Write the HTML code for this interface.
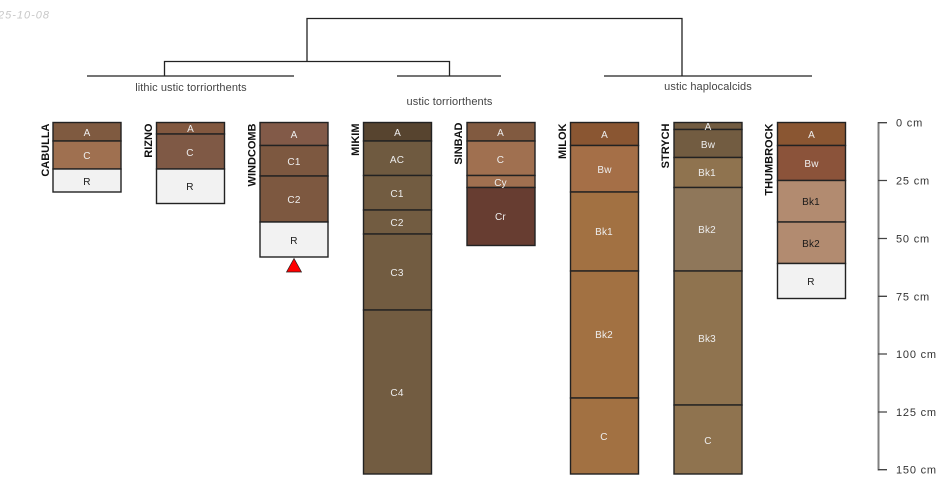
<!DOCTYPE html>
<html><head><meta charset="utf-8"><style>
html,body{margin:0;padding:0;background:#fff}
svg{display:block}
text{font-family:"Liberation Sans",sans-serif}
.h{font-size:10px;text-anchor:middle;fill:#eee;letter-spacing:.2px}
.d{font-size:10px;text-anchor:middle;fill:#1a1a1a;letter-spacing:.2px}
.n{font-size:11px;font-weight:bold;fill:#111;text-anchor:end}
.g{font-size:11px;text-anchor:middle;fill:#444;letter-spacing:.08px}
.t{font-size:11px;fill:#333;letter-spacing:.8px}
.l{stroke:#222;stroke-width:1.300;fill:none}
.b{stroke:#222;stroke-width:1.400}
</style></head><body>
<svg width="950" height="500" viewBox="0 0 950 500" xmlns="http://www.w3.org/2000/svg">
<text x="-2" y="18.500" font-size="11" font-style="italic" fill="#c8c8c8" letter-spacing="1">25-10-08</text>

<path class="l" d="M307 61.500V18.500H682V75.500"/>
<path class="l" d="M164.500 75.500V61.500H449.500V75.500"/>
<path class="l" d="M87 76H294M397 76H501M604 76H812"/>
<text class="g" x="191" y="91">lithic ustic torriorthents</text>
<text class="g" x="449.500" y="105">ustic torriorthents</text>
<text class="g" x="708" y="90">ustic haplocalcids</text>

<g class="b">
<rect x="53" y="122.500" width="68" height="18.500" fill="#7f5a40"/>
<rect x="53" y="141" width="68" height="28" fill="#9f7050"/>
<rect x="53" y="169" width="68" height="23" fill="#f2f2f2"/>

<rect x="156.500" y="122.500" width="68" height="11.500" fill="#82583f"/>
<rect x="156.500" y="134" width="68" height="35" fill="#7f5945"/>
<rect x="156.500" y="169" width="68" height="34.500" fill="#f2f2f2"/>

<rect x="260" y="122.500" width="68" height="23" fill="#825a48"/>
<rect x="260" y="145.500" width="68" height="30.500" fill="#7d5840"/>
<rect x="260" y="176" width="68" height="46" fill="#7d5840"/>
<rect x="260" y="222" width="68" height="35" fill="#f2f2f2"/>

<rect x="363.500" y="122.500" width="68" height="18.500" fill="#57442f"/>
<rect x="363.500" y="141" width="68" height="34.500" fill="#6f5a40"/>
<rect x="363.500" y="175.500" width="68" height="34.500" fill="#725c41"/>
<rect x="363.500" y="210" width="68" height="24" fill="#725c41"/>
<rect x="363.500" y="234" width="68" height="76" fill="#725c41"/>
<rect x="363.500" y="310" width="68" height="164" fill="#725c41"/>

<rect x="467" y="122.500" width="68" height="18.500" fill="#815a40"/>
<rect x="467" y="141" width="68" height="34.500" fill="#a07050"/>
<rect x="467" y="175.500" width="68" height="12" fill="#a07050"/>
<rect x="467" y="187.500" width="68" height="58" fill="#673d31"/>

<rect x="570.500" y="122.500" width="68" height="23" fill="#8a5632"/>
<rect x="570.500" y="145.500" width="68" height="46.500" fill="#a56f47"/>
<rect x="570.500" y="192" width="68" height="79" fill="#a27142"/>
<rect x="570.500" y="271" width="68" height="127" fill="#a27142"/>
<rect x="570.500" y="398" width="68" height="76" fill="#a27142"/>

<rect x="674" y="122.500" width="68" height="7" fill="#725c41"/>
<rect x="674" y="129.500" width="68" height="28" fill="#725c41"/>
<rect x="674" y="157.500" width="68" height="30" fill="#8f734f"/>
<rect x="674" y="187.500" width="68" height="83.500" fill="#8f775a"/>
<rect x="674" y="271" width="68" height="134" fill="#8f734f"/>
<rect x="674" y="405" width="68" height="69" fill="#8f734f"/>

<rect x="777.500" y="122.500" width="68" height="23" fill="#8a5632"/>
<rect x="777.500" y="145.500" width="68" height="35" fill="#8b533a"/>
<rect x="777.500" y="180.500" width="68" height="41.500" fill="#b28b70"/>
<rect x="777.500" y="222" width="68" height="41.500" fill="#b28b70"/>
<rect x="777.500" y="263.500" width="68" height="35" fill="#f2f2f2"/>
</g>

<text class="h" x="87" y="136">A</text><text class="h" x="87" y="159">C</text><text class="d" x="87" y="185">R</text>
<text class="h" x="190.500" y="132">A</text><text class="h" x="190" y="156">C</text><text class="d" x="190" y="190">R</text>
<text class="h" x="294" y="138">A</text><text class="h" x="294" y="165">C1</text><text class="h" x="294" y="203">C2</text><text class="d" x="294" y="244">R</text>
<text class="h" x="397.500" y="136">A</text><text class="h" x="397" y="163">AC</text><text class="h" x="397" y="197">C1</text><text class="h" x="397" y="226">C2</text><text class="h" x="397" y="276">C3</text><text class="h" x="397" y="396">C4</text>
<text class="h" x="500.500" y="136">A</text><text class="h" x="500.500" y="163">C</text><text class="h" x="500.500" y="186">Cy</text><text class="h" x="500.500" y="220">Cr</text>
<text class="h" x="604.500" y="138">A</text><text class="h" x="604.500" y="173">Bw</text><text class="h" x="604" y="235">Bk1</text><text class="h" x="604" y="338">Bk2</text><text class="h" x="604" y="440">C</text>
<text class="h" x="708" y="130">A</text><text class="h" x="708" y="148">Bw</text><text class="h" x="707" y="176">Bk1</text><text class="h" x="707" y="233">Bk2</text><text class="h" x="707" y="342">Bk3</text><text class="h" x="708" y="444">C</text>
<text class="h" x="811.500" y="138">A</text><text class="h" x="811.500" y="167">Bw</text><text class="d" x="811" y="205">Bk1</text><text class="d" x="811" y="247">Bk2</text><text class="d" x="811" y="285">R</text>

<g>
<text class="n" transform="translate(49 123.500) rotate(-90)">CABULLA</text>
<text class="n" transform="translate(152 123.500) rotate(-90)">RIZNO</text>
<text class="n" transform="translate(255.500 123.500) rotate(-90)">WINDCOMB</text>
<text class="n" transform="translate(359 123.500) rotate(-90)">MIKIM</text>
<text class="n" transform="translate(462 122.500) rotate(-90)">SINBAD</text>
<text class="n" transform="translate(566 123.500) rotate(-90)">MILOK</text>
<text class="n" transform="translate(669 123.500) rotate(-90)">STRYCH</text>
<text class="n" transform="translate(772.500 123.500) rotate(-90)">THUMBROCK</text>
</g>

<path d="M294 258.500L286.500 272H301.500Z" fill="#f00" stroke="#222" stroke-width=".7"/>

<path d="M878.500 122V470.500" fill="none" stroke="#808080" stroke-width="2"/>
<path d="M878 122.700H887M878 180.500H887M878 238.500H887M878 296.300H887M878 354H887M878 412H887M878 469.700H887" stroke="#444" stroke-width="1.300"/>
<text class="t" x="896" y="126.500" letter-spacing=".4">0 cm</text>
<text class="t" x="896" y="184.500">25 cm</text>
<text class="t" x="896" y="242.500">50 cm</text>
<text class="t" x="896" y="300.500">75 cm</text>
<text class="t" x="896" y="358">100 cm</text>
<text class="t" x="896" y="416">125 cm</text>
<text class="t" x="896" y="473.500">150 cm</text>
</svg>
</body></html>
